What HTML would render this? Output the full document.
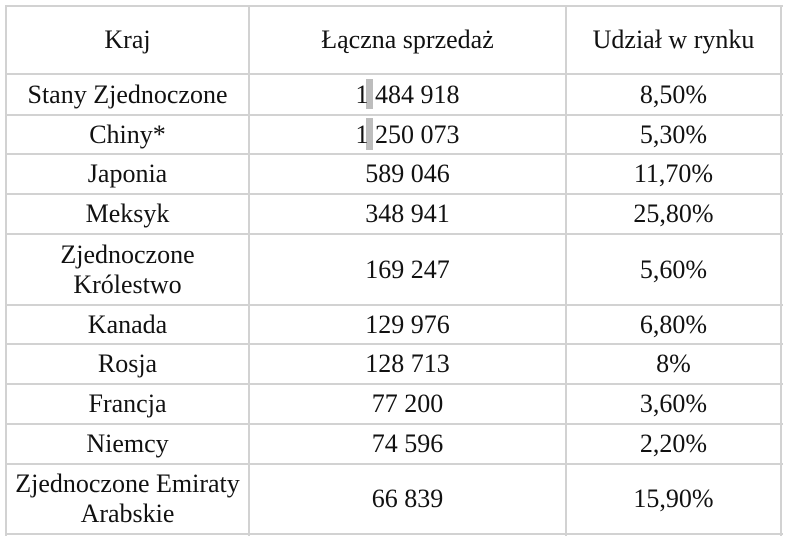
<!DOCTYPE html>
<html><head><meta charset="utf-8"><style>
body{margin:0;width:788px;height:544px;background:#fff;position:relative;overflow:hidden;font-family:"Liberation Serif","Noto Serif CJK SC",serif;font-size:26px;color:#111}
.h{position:absolute;left:5px;width:778px;height:2px;background:#d2d2d2}
.v{position:absolute;top:5px;height:531px;width:2px;background:#d2d2d2}
.c{position:absolute;display:flex;align-items:center;justify-content:center;text-align:center;line-height:30px;font-family:"Liberation Serif","Noto Serif CJK SC",serif}
.m{position:absolute;width:7px;background:#bdbdbd}
</style></head><body>
<div class="h" style="top:5px"></div><div class="h" style="top:73px"></div><div class="h" style="top:114px"></div><div class="h" style="top:153px"></div><div class="h" style="top:193px"></div><div class="h" style="top:233px"></div><div class="h" style="top:304px"></div><div class="h" style="top:343px"></div><div class="h" style="top:383px"></div><div class="h" style="top:423px"></div><div class="h" style="top:463px"></div><div class="h" style="top:533px"></div>
<div class="v" style="left:5px"></div><div class="v" style="left:248px"></div><div class="v" style="left:565px"></div><div class="v" style="left:780px"></div>
<div class="m" style="left:366px;top:79px;height:30px"></div>
<div class="m" style="left:366px;top:118px;height:32px"></div>
<div id="t"></div>
<script>
var rows=[[5,73,"Kraj","Łączna sprzedaż","Udział w rynku"],[73,114,"Stany Zjednoczone","1 484 918","8,50%"],[114,153,"Chiny*","1 250 073","5,30%"],[153,193,"Japonia","589 046","11,70%"],[193,233,"Meksyk","348 941","25,80%"],[233,304,"Zjednoczone<br>Królestwo","169 247","5,60%"],[304,343,"Kanada","129 976","6,80%"],[343,383,"Rosja","128 713","8%"],[383,423,"Francja","77 200","3,60%"],[423,463,"Niemcy","74 596","2,20%"],[463,533,"Zjednoczone Emiraty<br>Arabskie","66 839","15,90%"]];
var cols=[[7,241],[250,315],[567,213]],h="";
rows.forEach(function(r){for(var i=0;i<3;i++)h+='<div class="c" style="left:'+cols[i][0]+'px;width:'+cols[i][1]+'px;top:'+(r[0]+2)+'px;height:'+(r[1]-r[0]-2)+'px">'+r[2+i]+'</div>';});
document.getElementById("t").innerHTML=h;
</script>
</body></html>
